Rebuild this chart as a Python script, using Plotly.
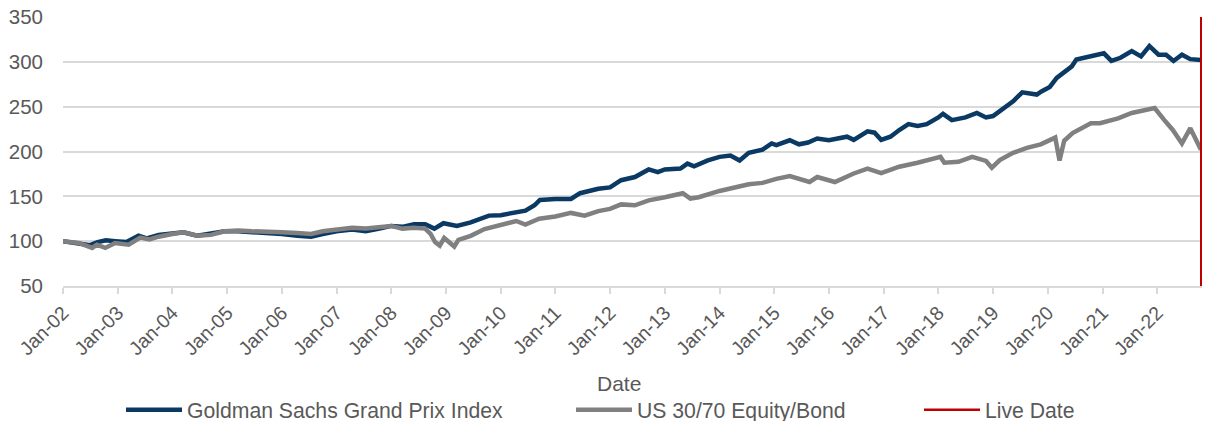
import plotly.graph_objects as go

# ---- data ----
gs_dates = [
    "2002-01-01", "2002-04-15", "2002-07-01", "2002-08-20", "2002-10-15", "2002-12-15",
    "2003-03-01", "2003-05-20", "2003-07-15", "2003-10-01", "2004-01-01", "2004-03-15",
    "2004-06-15", "2004-09-15", "2004-12-15", "2005-03-15", "2005-06-15", "2005-09-15",
    "2006-01-01", "2006-04-15", "2006-07-15", "2006-10-01", "2007-01-01", "2007-04-15",
    "2007-07-15", "2007-10-15", "2008-01-01", "2008-03-15", "2008-06-01", "2008-08-15",
    "2008-10-15", "2008-12-15", "2009-03-15", "2009-06-15", "2009-08-15", "2009-10-15",
    "2010-01-01", "2010-03-15", "2010-06-15", "2010-08-15", "2010-09-20", "2011-01-01",
    "2011-04-15", "2011-06-15", "2011-08-15", "2011-10-15", "2012-01-01", "2012-03-15",
    "2012-06-15", "2012-09-15", "2012-11-15", "2013-01-01", "2013-04-15", "2013-06-01",
    "2013-07-15", "2013-10-15", "2014-01-01", "2014-03-15", "2014-05-15", "2014-07-15",
    "2014-10-15", "2014-12-15", "2015-01-15", "2015-04-15", "2015-06-15", "2015-08-15",
    "2015-10-15", "2016-01-01", "2016-05-01", "2016-06-15", "2016-09-15", "2016-11-01",
    "2016-12-15", "2017-02-15", "2017-04-15", "2017-06-15", "2017-08-15", "2017-10-15",
    "2018-01-01", "2018-02-01", "2018-04-01", "2018-07-01", "2018-09-15", "2018-11-15",
    "2019-01-01", "2019-03-15", "2019-05-15", "2019-07-15", "2019-09-15", "2019-10-20",
    "2019-11-20", "2020-01-15", "2020-03-01", "2020-04-20", "2020-06-10", "2020-07-10",
    "2020-09-10", "2020-11-10", "2021-01-10", "2021-03-01", "2021-05-01", "2021-07-15",
    "2021-09-15", "2021-11-10", "2022-01-10", "2022-03-01", "2022-04-20", "2022-06-15",
    "2022-08-10", "2022-10-20",
]
gs_values = [
    100, 97, 95.5, 99, 101, 100,
    99, 106, 103, 107, 108, 110,
    106, 108, 111, 111, 110, 110,
    108, 106, 105, 108, 111, 113,
    111, 114, 117, 116, 119, 119,
    114, 120, 117, 121, 125, 128.5,
    129, 131, 134, 140, 146, 147,
    147, 153.5, 156.5, 158.5, 160, 168,
    171.5, 180, 177, 180, 181, 186.5,
    183.5, 190, 194, 195.5, 190, 198.5,
    202, 209, 207, 212.5, 208, 210,
    214.5, 212.5, 216.5, 213, 222.5, 221,
    213, 216.5, 224, 230.5, 228.5, 230.5,
    238, 242, 235, 238, 243, 238,
    239.5, 249, 256, 266, 265, 263.5,
    267, 272, 282, 288, 295, 302.5,
    304.5, 307, 309.5, 301, 304.5, 312,
    306, 317.5, 308, 308, 301, 308,
    303, 302,
]

mix_dates = [
    "2002-01-01", "2002-04-15", "2002-07-15", "2002-08-15", "2002-10-10", "2002-12-15",
    "2003-03-15", "2003-06-01", "2003-08-01", "2003-10-01", "2004-01-01", "2004-03-15",
    "2004-06-15", "2004-09-15", "2004-12-15", "2005-03-15", "2005-06-15", "2005-09-15",
    "2006-01-01", "2006-04-15", "2006-07-15", "2006-10-01", "2007-01-01", "2007-04-15",
    "2007-07-15", "2007-10-15", "2008-01-01", "2008-03-15", "2008-06-01", "2008-08-15",
    "2008-09-20", "2008-10-20", "2008-11-20", "2008-12-20", "2009-02-25", "2009-03-25",
    "2009-06-15", "2009-09-15", "2010-01-01", "2010-04-15", "2010-06-15", "2010-09-15",
    "2011-01-01", "2011-04-15", "2011-07-15", "2011-10-15", "2012-01-01", "2012-03-15",
    "2012-06-15", "2012-09-15", "2013-01-01", "2013-05-01", "2013-06-20", "2013-08-15",
    "2014-01-01", "2014-04-15", "2014-07-15", "2014-10-15", "2015-01-15", "2015-04-15",
    "2015-06-15", "2015-08-25", "2015-10-15", "2016-02-10", "2016-06-15", "2016-09-15",
    "2016-12-15", "2017-04-15", "2017-08-15", "2018-01-15", "2018-02-10", "2018-05-15",
    "2018-08-15", "2018-11-15", "2018-12-24", "2019-02-15", "2019-05-15", "2019-08-15",
    "2019-11-15", "2020-02-20", "2020-03-20", "2020-04-20", "2020-06-15", "2020-09-01",
    "2020-10-15", "2020-12-15", "2021-04-15", "2021-07-15", "2021-10-15", "2021-12-15",
    "2022-02-15", "2022-04-15", "2022-06-15", "2022-08-10", "2022-10-20",
]
mix_values = [
    100, 98, 92.5, 96, 92.5, 98,
    96, 104, 102, 105, 108, 110,
    106, 107, 111, 112, 111, 110,
    110, 109, 108, 111, 113, 115,
    114, 115, 117, 114, 115, 114,
    108, 99, 95, 103.5, 94, 101.5,
    106, 113.5, 117.5, 122.5, 118.5, 125,
    127.5, 131.5, 128.5, 133.5, 136, 141,
    140, 145.5, 149, 153.5, 147.5, 149,
    156, 160.5, 163.5, 165, 169.5, 172.5,
    170, 166, 171.5, 166, 175.5, 181,
    176, 183, 187.5, 194, 187.5, 188.5,
    194, 189.5, 182, 190.5, 198.5, 204,
    208, 215.5, 190, 212, 220.5, 228,
    231.5, 231.5, 237, 243, 246.5, 248.5,
    235.5, 224, 209, 226, 202,
]

live_date = "2022-10-22"
live_y = [50, 350]

tick_years = list(range(2002, 2023))
tick_vals = [f"{y}-01-01" for y in tick_years]
tick_text = [f"Jan-{y % 100:02d}" for y in tick_years]

NAVY = "#0A3963"
GREY = "#808080"
RED = "#C00000"
TXT = "#595959"
GRID = "#D9D9D9"
FONT = "Liberation Sans, Arial, sans-serif"

fig = go.Figure()
fig.add_trace(go.Scatter(x=gs_dates, y=gs_values, mode="lines",
                         name="Goldman Sachs Grand Prix Index",
                         line=dict(color=NAVY, width=4.5), legend="legend"))
fig.add_trace(go.Scatter(x=mix_dates, y=mix_values, mode="lines",
                         name="US 30/70 Equity/Bond",
                         line=dict(color=GREY, width=4.5), legend="legend2"))
fig.add_trace(go.Scatter(x=[live_date, live_date], y=live_y, mode="lines",
                         name="Live Date",
                         line=dict(color=RED, width=2.5), legend="legend3"))

leg_common = dict(orientation="h", xref="container", yref="container",
                  yanchor="middle", y=0.026, xanchor="left",
                  bgcolor="rgba(0,0,0,0)",
                  font=dict(family=FONT, size=21.2, color=TXT), itemwidth=56,
                  borderwidth=0)

fig.update_layout(
    width=1210, height=421,
    margin=dict(l=63, r=8, t=17, b=135, autoexpand=False),
    paper_bgcolor="white", plot_bgcolor="white",
    font=dict(family=FONT, color=TXT),
    showlegend=True,
    legend=dict(x=121 / 1210, **leg_common),
    legend2=dict(x=571 / 1210, **leg_common),
    legend3=dict(x=919 / 1210, **leg_common),
    xaxis=dict(type="date", range=["2002-01-01", "2022-10-27"],
               tickmode="array", tickvals=tick_vals, ticktext=tick_text,
               tickangle=-45, tickfont=dict(family=FONT, size=19.5, color=TXT),
               ticks="outside", ticklen=6, tickwidth=1.5, tickcolor=GRID,
               showline=True, linecolor=GRID, linewidth=1.5,
               showgrid=False, zeroline=False, automargin=False),
    yaxis=dict(range=[50, 350], tickmode="linear", tick0=50, dtick=50,
               tickfont=dict(family=FONT, size=20.5, color=TXT),
               ticklabelstandoff=19,
               showgrid=True, gridcolor=GRID, gridwidth=1.5,
               zeroline=False, showline=False, ticks="", automargin=False),
    annotations=[dict(text="Date", xref="paper", yref="paper", x=0.488, y=-0.364,
                      xanchor="center", yanchor="middle", showarrow=False,
                      font=dict(family=FONT, size=21, color=TXT))],
)

fig.write_html("out.html",
               config={"displayModeBar": False},
               post_script="document.body.style.margin='0';"
                           "document.body.style.overflow='hidden';")
